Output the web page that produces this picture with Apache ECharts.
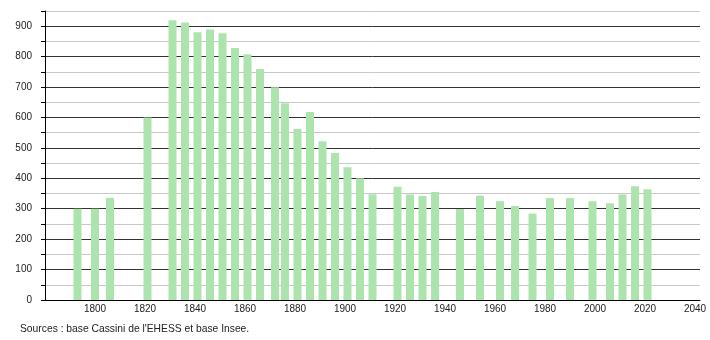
<!DOCTYPE html>
<html>
<head>
<meta charset="utf-8">
<script src="https://cdn.jsdelivr.net/npm/echarts@6/dist/echarts.min.js"></script>
<style>
html,body{margin:0;padding:0;background:#fff;}
#c{width:710px;height:340px;}
</style>
</head>
<body>
<div id="c"></div>
<script>
const years = [1793,1800,1806,1821,1831,1836,1841,1846,1851,1856,1861,1866,1872,1876,1881,1886,1891,1896,1901,1906,1911,1921,1926,1931,1936,1946,1954,1962,1968,1975,1982,1990,1999,2006,2011,2016,2021];
const population = [300,300,336,600,920,912,880,889,877,828,808,759,699,647,562,618,522,483,436,400,348,372,347,342,355,299,343,325,309,284,335,335,325,318,347,374,364];
const sourceText = "Sources : base Cassini de l'EHESS et base Insee.";

const chart = echarts.init(document.getElementById('c'));
const font = 'Liberation Sans, Arial, sans-serif';
chart.setOption({
  animation: false,
  grid: {left: 45, right: 10, top: 11, bottom: 40},
  xAxis: {
    type: 'value', min: 1780, max: 2042, interval: 20,
    axisLine: {show: true, lineStyle: {color: '#000', width: 1}},
    axisTick: {show: false},
    splitLine: {show: false},
    axisLabel: {
      color: '#222', fontSize: 10, fontFamily: font, margin: 4,
      formatter: v => (v >= 1800 && v % 20 === 0) ? String(v) : ''
    }
  },
  yAxis: {
    type: 'value', min: 0, max: 950, interval: 50,
    axisLine: {show: true, lineStyle: {color: '#000', width: 1}},
    axisTick: {show: true, length: 4, lineStyle: {color: '#000'}},
    splitLine: {show: true, lineStyle: {color: ['#333', '#c8c8c8'], width: 1}},
    axisLabel: {
      color: '#222', fontSize: 10, fontFamily: font, margin: 13,
      formatter: v => (v % 100 === 0) ? String(v) : ''
    }
  },
  series: [{
    type: 'bar',
    data: years.map((y, i) => [y, population[i]]),
    barWidth: 8,
    itemStyle: {color: '#ade4ad'}
  }],
  graphic: [{
    type: 'text', left: 20, top: 324,
    style: {text: sourceText, fontSize: 10.3, fontFamily: font, fill: '#222'}
  }]
});
</script>
</body>
</html>
